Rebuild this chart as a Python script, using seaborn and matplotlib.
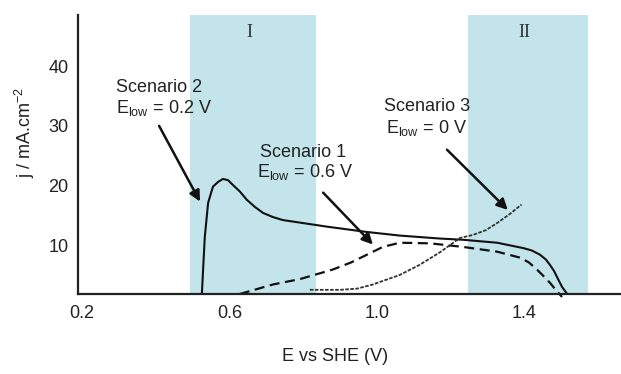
import pandas as pd
import matplotlib
matplotlib.use('Agg')
import matplotlib.pyplot as plt
import seaborn as sns

# Scenario curves (E vs SHE in V, j in mA/cm2)
s2_e = [0.525, 0.529, 0.533, 0.542, 0.555, 0.569, 0.582, 0.596, 0.609, 0.628,
        0.647, 0.669, 0.691, 0.718, 0.745, 0.810, 0.864, 0.973, 1.062, 1.171,
        1.233, 1.326, 1.397, 1.420, 1.442, 1.458, 1.469, 1.480, 1.488, 1.502,
        1.516]
s2_j = [1.8, 6.7, 11.4, 17.1, 19.8, 20.6, 21.1, 20.9, 20.1, 19.0,
        17.6, 16.4, 15.4, 14.7, 14.2, 13.6, 13.1, 12.2, 11.6, 11.1,
        10.9, 10.4, 9.5, 9.1, 8.4, 7.6, 6.7, 5.7, 4.7, 3.0,
        1.8]

s1_e = [0.628, 0.718, 0.791, 0.880, 0.930, 0.973, 1.016, 1.062, 1.144, 1.233,
        1.326, 1.388, 1.412, 1.434, 1.452, 1.469, 1.485, 1.502]
s1_j = [1.8, 3.4, 4.3, 5.9, 7.1, 8.4, 9.7, 10.4, 10.3, 9.7,
        8.9, 7.9, 7.1, 5.9, 4.8, 3.7, 2.5, 1.3]

s3_e = [0.818, 0.900, 0.946, 0.989, 1.030, 1.062, 1.116, 1.171, 1.225, 1.260,
        1.295, 1.326, 1.360, 1.392]
s3_j = [2.5, 2.5, 2.7, 3.4, 4.3, 5.0, 6.7, 8.8, 11.2, 11.7,
        12.5, 13.7, 15.2, 16.8]

xticks = [0.2, 0.6, 1.0, 1.4]
yticks = [10, 20, 30, 40]
regions = [(0.493, 0.835, 'I'), (1.247, 1.572, 'II')]

sns.set_theme(style='white')
plt.rcParams['font.family'] = ['Liberation Sans', 'DejaVu Sans']
plt.rcParams['mathtext.fontset'] = 'custom'
plt.rcParams['mathtext.rm'] = 'Liberation Sans'
plt.rcParams['mathtext.it'] = 'Liberation Sans'

fig = plt.figure(figsize=(6.21, 3.74), dpi=100)
ax = fig.add_axes([78 / 621, 80 / 374, 543 / 621, 279 / 374])

# shaded potential windows
for lo, hi, name in regions:
    ax.axvspan(lo, hi, color='#c2e4ea', lw=0, zorder=0)
    ax.text((lo + hi) / 2 - 0.01, 45.6, name, family=['Liberation Serif', 'DejaVu Serif'],
            fontsize=13, color='#333333', ha='center', va='center')

d2 = pd.DataFrame({'E': s2_e, 'j': s2_j})
d1 = pd.DataFrame({'E': s1_e, 'j': s1_j})
d3 = pd.DataFrame({'E': s3_e, 'j': s3_j})

sns.lineplot(data=d2, x='E', y='j', ax=ax, color='#111111', lw=1.5, estimator=None)
sns.lineplot(data=d1, x='E', y='j', ax=ax, color='#111111', lw=1.6, estimator=None,
             linestyle=(0, (4.5, 2.5)), clip_on=False)
sns.lineplot(data=d3, x='E', y='j', ax=ax, color='#333333', lw=1.3, estimator=None,
             linestyle=(0, (2, 0.8)))

# annotations
txt = dict(fontsize=13, color='#222222')
arr = dict(arrowstyle='-|>', color='#111111', lw=1.8, mutation_scale=16,
           shrinkA=0, shrinkB=0)

ax.text(0.292, 36.4, 'Scenario 2', ha='left', va='center', **txt)
ax.text(0.292, 33.0, r'E$_{\mathrm{low}}$ = 0.2 V', ha='left', va='center', **txt)
ax.annotate('', xy=(0.520, 17.3), xytext=(0.409, 30.0), arrowprops=arr)

ax.text(0.683, 25.6, 'Scenario 1', ha='left', va='center', **txt)
ax.text(0.675, 22.3, r'E$_{\mathrm{low}}$ = 0.6 V', ha='left', va='center', **txt)
ax.annotate('', xy=(0.989, 10.1), xytext=(0.854, 18.8), arrowprops=arr)

ax.text(1.136, 33.2, 'Scenario 3', ha='center', va='center', **txt)
ax.text(1.134, 29.6, r'E$_{\mathrm{low}}$ = 0 V', ha='center', va='center', **txt)
ax.annotate('', xy=(1.355, 15.9), xytext=(1.190, 26.0), arrowprops=arr)

ax.set_xlim(0.189, 1.662)
ax.set_ylim(1.8, 48.6)
ax.set_xticks(xticks)
ax.set_xticklabels(['0.2', '0.6', '1.0', '1.4'])
ax.set_yticks(yticks)
ax.tick_params(length=0, labelsize=13, labelcolor='#222222')
ax.tick_params(axis='x', pad=8)
ax.tick_params(axis='y', pad=7)

ax.set_xlabel('E vs SHE (V)', fontsize=13, color='#222222')
ax.set_ylabel(r'j / mA.cm$^{-2}$', fontsize=13, color='#222222')
ax.xaxis.set_label_coords(0.473, -0.195)
ax.yaxis.set_label_coords(-0.075, 0.58)

sns.despine(ax=ax)
for s in ['left', 'bottom']:
    ax.spines[s].set_color('#222222')
    ax.spines[s].set_linewidth(1.6)
ax.patch.set_alpha(0)

fig.savefig('out.png', dpi=100)
